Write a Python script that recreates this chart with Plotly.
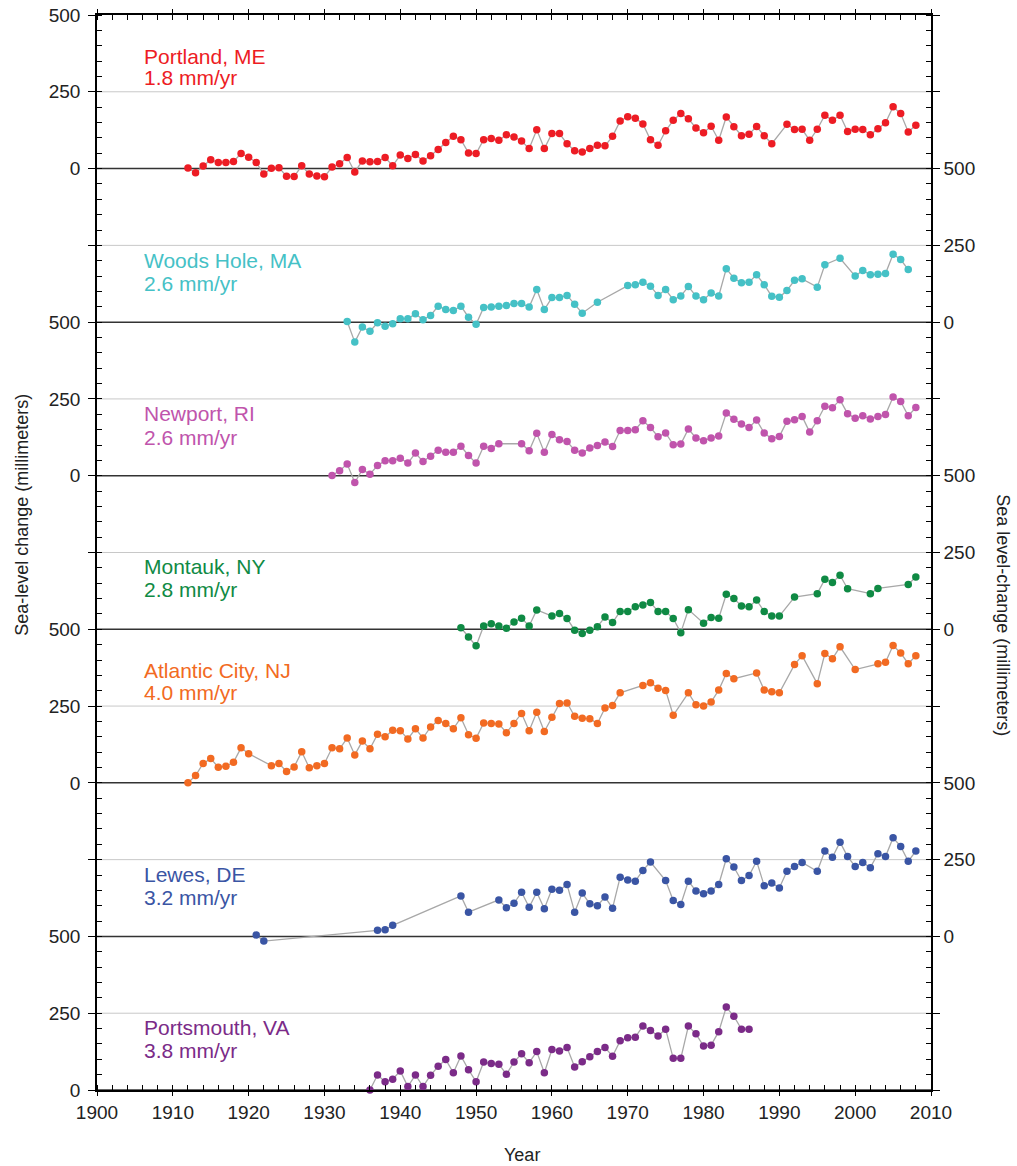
import plotly.graph_objects as go

# ---------------- data ----------------
stations = ["Portland, ME", "Woods Hole, MA", "Newport, RI", "Montauk, NY",
            "Atlantic City, NJ", "Lewes, DE", "Portsmouth, VA"]
rates = ["1.8 mm/yr", "2.6 mm/yr", "2.6 mm/yr", "2.8 mm/yr",
         "4.0 mm/yr", "3.2 mm/yr", "3.8 mm/yr"]
colors = ["#ED1C24", "#45C1C6", "#C054AC", "#0F8A44",
          "#F26A22", "#3A55A4", "#7B2B88"]

portland_years = list(range(1912, 1990)) + list(range(1991, 2009))
portland_mm = [2, -14, 8, 29, 20, 20, 23, 49, 37, 20, -18, 1, 3, -25, -26, 9, -18, -24, -27,
               5, 16, 36, -11, 25, 22, 23, 36, 9, 44, 33, 46, 25, 42, 62, 85, 105, 94, 51,
               49, 94, 98, 92, 110, 103, 90, 65, 126, 65, 114, 114, 81, 58, 54, 65, 76, 74,
               105, 155, 169, 164, 145, 94, 76, 123, 157, 179, 162, 132, 117, 138, 92, 168,
               136, 107, 112, 137, 107, 81,
               144, 127, 128, 92, 128, 174, 157, 174, 121, 128, 127, 110, 130, 149, 201,
               179, 119, 141]

woods_years = (list(range(1933, 1965)) + [1966] + list(range(1970, 1994))
               + [1995, 1996, 1998] + list(range(2000, 2008)))
woods_mm = [2, -65, -16, -30, -2, -13, -5, 11, 11, 27, 8, 22, 52, 41, 38, 52, 16, -7, 48, 49,
            52, 54, 61, 61, 49, 106, 41, 80, 80, 87, 58, 29,
            65,
            119, 122, 130, 117, 87, 106, 73, 85, 116, 85, 73, 95, 85, 174, 143, 128, 130,
            154, 122, 84, 81, 103, 136, 141,
            114, 187, 208,
            150, 168, 154, 156, 158, 221, 204, 171]

newport_years = list(range(1931, 1954)) + list(range(1956, 2009))
newport_mm = [1, 16, 38, -22, 20, 5, 33, 49, 49, 57, 41, 74, 46, 63, 83, 76, 76, 96, 66, 41,
              96, 89, 104,
              104, 81, 138, 76, 134, 117, 111, 83, 74, 90, 98, 110, 95, 147, 147, 150, 179,
              157, 127, 139, 101, 103, 152, 123, 114, 123, 129, 204, 184, 168, 157, 181,
              139, 120, 128, 177, 182, 193, 142, 179, 226, 221, 247, 202, 187, 195, 185,
              193, 199, 256, 242, 195, 222]

montauk_years = (list(range(1948, 1959)) + list(range(1960, 1979)) + list(range(1980, 1991))
                 + [1992] + list(range(1995, 2000)) + [2002, 2003, 2007, 2008])
montauk_mm = [5, -25, -54, 11, 18, 11, 3, 24, 36, 11, 63,
              43, 51, 35, -3, -14, -3, 8, 40, 22, 58, 58, 73, 79, 87, 58, 58, 35, -11, 64,
              20, 38, 36, 114, 100, 76, 73, 95, 58, 43, 43,
              105,
              116, 163, 152, 176, 132,
              116, 133, 146, 170]

atlantic_years = (list(range(1912, 1921)) + list(range(1923, 1970)) + list(range(1972, 1977))
                  + list(range(1978, 1985)) + list(range(1987, 1991)) + [1992, 1993]
                  + list(range(1995, 1999)) + [2000] + list(range(2003, 2009)))
atlantic_mm = [0, 24, 63, 79, 51, 54, 67, 114, 95,
               56, 63, 37, 52, 101, 49, 56, 63, 114, 111, 146, 91, 136, 111, 158, 150, 171,
               170, 143, 176, 146, 182, 203, 193, 176, 212, 157, 145, 195, 193, 192, 163,
               193, 226, 170, 230, 167, 214, 258, 260, 217, 210, 209, 193, 244, 252, 293,
               317, 326, 308, 301, 220,
               293, 254, 250, 263, 302, 356, 339,
               358, 302, 297, 293,
               385, 414,
               323, 421, 404, 443,
               369,
               388, 393, 447, 423, 388, 414]

lewes_years = ([1921, 1922, 1937, 1938, 1939, 1948, 1949] + list(range(1953, 1974))
               + list(range(1975, 1994)) + list(range(1995, 2009)))
lewes_mm = [5, -15, 20, 22, 36, 132, 79,
            119, 93, 108, 144, 95, 144, 90, 154, 150, 169, 79, 141, 106, 100, 128, 92, 193,
            184, 180, 215, 242,
            182, 117, 104, 180, 148, 139, 148, 169, 253, 226, 182, 198, 245, 165, 174, 158,
            212, 228, 241,
            212, 278, 258, 307, 260, 228, 241, 224, 269, 260, 321, 293, 245, 278]

portsmouth_years = list(range(1936, 1987))
portsmouth_mm = [0, 49, 27, 35, 62, 11, 49, 11, 48, 77, 99, 56, 111, 66, 27, 91, 86, 84, 51,
                 91, 118, 89, 125, 56, 132, 127, 138, 75, 92, 108, 125, 138, 110, 160, 170,
                 172, 208, 194, 176, 198, 103, 103, 208, 183, 143, 146, 190, 270, 240, 198, 198]

series_years = [portland_years, woods_years, newport_years, montauk_years,
                atlantic_years, lewes_years, portsmouth_years]
series_mm = [portland_mm, woods_mm, newport_mm, montauk_mm,
             atlantic_mm, lewes_mm, portsmouth_mm]

x_ticks = list(range(1900, 2011, 10))
panel_ticks_mm = [0, 250, 500]
label_sides = ["left", "right", "left", "right", "left", "right", "left"]

# ---------------- layout helpers ----------------
PANEL = 500                      # vertical room of each panel (mm)
n = len(stations)
offsets = [(n - 1 - i) * PANEL for i in range(n)]
YMAX = n * PANEL
label_rel = [(366, 298), (202, 127), (204, 126), (203, 128), (367, 293), (203, 128), (205, 130)]

fig = go.Figure()

for i in range(n):
    off = offsets[i]
    fig.add_trace(go.Scatter(
        x=series_years[i], y=[v + off for v in series_mm[i]],
        mode="lines+markers", name=stations[i], showlegend=False,
        line=dict(color="#A8A8A8", width=1.3),
        marker=dict(color=colors[i], size=7.5, line=dict(width=0)),
        cliponaxis=False,
    ))
    fig.add_annotation(x=1906, y=off + label_rel[i][0], xref="x", yref="y",
                       text=stations[i], showarrow=False, xanchor="left", yanchor="middle",
                       font=dict(family="Liberation Sans, Arial", size=21, color=colors[i]))
    fig.add_annotation(x=1906, y=off + label_rel[i][1], xref="x", yref="y",
                       text=rates[i], showarrow=False, xanchor="left", yanchor="middle",
                       font=dict(family="Liberation Sans, Arial", size=21, color=colors[i]))

# invisible anchor trace for the right axis
fig.add_trace(go.Scatter(x=[x_ticks[0]], y=[0], yaxis="y2", mode="markers",
                         marker=dict(opacity=0), showlegend=False, hoverinfo="skip"))

# tick values / labels
tickvals, left_text, right_text = [], [], []
for i in range(n):
    for t in panel_ticks_mm:
        v = offsets[i] + t
        if v not in tickvals:
            tickvals.append(v)
            left_text.append("")
            right_text.append("")
        k = tickvals.index(v)
        if label_sides[i] == "left":
            left_text[k] = str(t)
        else:
            right_text[k] = str(t)
order = sorted(range(len(tickvals)), key=lambda k: tickvals[k])
tickvals = [tickvals[k] for k in order]
left_text = [left_text[k] for k in order]
right_text = [right_text[k] for k in order]

# mid-panel (250) grey lines and panel baselines (black)
for off in offsets:
    fig.add_shape(type="line", xref="paper", x0=0, x1=1, yref="y",
                  y0=off + panel_ticks_mm[1], y1=off + panel_ticks_mm[1],
                  line=dict(color="#C8C8C8", width=1), layer="below")
    fig.add_shape(type="line", xref="paper", x0=0, x1=1, yref="y", y0=off, y1=off,
                  line=dict(color="#333333", width=1.5), layer="below")

tick_font = dict(family="Liberation Sans, Arial", size=19, color="#222222")

fig.update_layout(
    width=1017, height=1166,
    margin=dict(l=97, r=86, t=15, b=76, autoexpand=False),
    paper_bgcolor="white", plot_bgcolor="white",
    xaxis=dict(range=[x_ticks[0], x_ticks[-1]], tickvals=x_ticks, automargin=False,
               ticks="outside", ticklen=4, tickwidth=1.2, tickcolor="black",
               showline=True, linecolor="black", linewidth=1.5, mirror="ticks",
               showgrid=False, zeroline=False, tickfont=tick_font,
               minor=dict(dtick=2, ticks="inside", ticklen=5, tickcolor="black", showgrid=False)),
    yaxis=dict(range=[0, YMAX], tickvals=tickvals, ticktext=left_text, automargin=False,
               ticks="outside", ticklen=7, tickwidth=1.2, tickcolor="black",
               showline=True, linecolor="black", linewidth=1.5,
               showgrid=False, zeroline=False, ticklabelstandoff=4,
               tickfont=tick_font,
               minor=dict(dtick=50, ticks="inside", ticklen=5, tickcolor="black", showgrid=False)),
    yaxis2=dict(range=[0, YMAX], overlaying="y", side="right", tickvals=tickvals,
                ticktext=right_text, ticks="outside", ticklen=7, tickwidth=1.2, automargin=False,
                tickcolor="black", showline=True, linecolor="black", linewidth=1.5,
                showgrid=False, zeroline=False, tickfont=tick_font,
                minor=dict(dtick=50, ticks="inside", ticklen=5, tickcolor="black", showgrid=False)),
)

title_font = dict(family="Liberation Sans, Arial", size=18, color="#222222")
fig.add_annotation(text="Sea-level change (millimeters)", xref="paper", yref="paper",
                   x=-0.09, y=0.535, textangle=-90, showarrow=False,
                   xanchor="center", yanchor="middle", font=title_font)
fig.add_annotation(text="Sea level-change (millimeters)", xref="paper", yref="paper",
                   x=1.086, y=0.442, textangle=90, showarrow=False,
                   xanchor="center", yanchor="middle", font=title_font)
fig.add_annotation(text="Year", xref="paper", yref="paper",
                   x=0.51, y=-0.06, showarrow=False,
                   xanchor="center", yanchor="middle", font=title_font)

fig.write_html("out.html")
